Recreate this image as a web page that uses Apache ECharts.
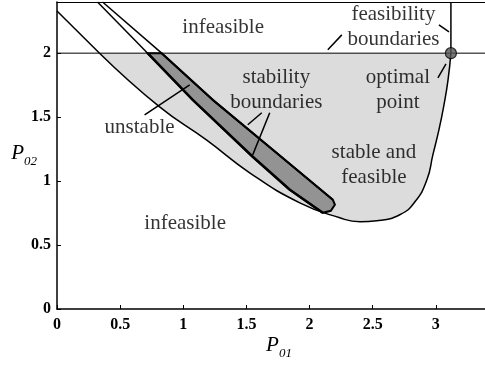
<!DOCTYPE html>
<html><head><meta charset="utf-8">
<script src="https://cdn.jsdelivr.net/npm/echarts@6/dist/echarts.min.js"></script>
<style>html,body{margin:0;padding:0;background:#fff}#c{width:485px;height:365px}</style>
</head><body><div id="c"></div>
<script>
// feasibility boundary (lower curve): part above P02=2, and part enclosing the feasible region
const boundaryOuter = [[0, 2.33], [0.337, 2.0]];
const boundaryInner = [[0.337, 2.0], [0.813, 1.58], [1.186, 1.32], [1.526, 1.065], [1.923, 0.83], [2.24, 0.713], [2.40, 0.682], [2.533, 0.69], [2.715, 0.737], [2.835, 0.838], [2.93, 1.01], [2.977, 1.205], [3.025, 1.40], [3.065, 1.596], [3.097, 1.79], [3.12, 2.0]];
const feasLimitY = 2.0;
const feasLimitX = 3.12;
// stability boundaries
const stabLowerAbove = [[0.321, 2.40], [0.718, 2.0]];
const stabLowerBelow = [[0.718, 2.0], [1.075, 1.635], [1.55, 1.19], [1.844, 0.932], [2.105, 0.752]];
const stabUpperAbove = [[0.361, 2.40], [0.829, 2.0]];
const stabUpperBelow = [[0.829, 2.0], [1.233, 1.635], [1.709, 1.245], [2.185, 0.854]];
const bandCap = [[2.185, 0.854], [2.201, 0.815], [2.169, 0.768], [2.105, 0.752]];
const optimalPoint = [3.12, 2.0];
// annotations
const annoText = ['infeasible', 'feasibility\nboundaries', 'stability\nboundaries', 'optimal\npoint', 'stable and\nfeasible', 'unstable', 'infeasible'];
const annoPos = [[1.316, 2.198], [2.665, 2.202], [1.737, 1.709], [2.70, 1.709], [2.51, 1.127], [0.654, 1.416], [1.015, 0.666]];
const leaders = [
  [[2.145, 2.026], [2.256, 2.143]],
  [[3.025, 2.221], [3.105, 2.166]],
  [[3.017, 1.807], [3.081, 1.916]],
  [[1.511, 1.44], [1.622, 1.534]],
  [[1.685, 1.534], [1.55, 1.205]],
  [[0.694, 1.518], [1.051, 1.752]]
];
const xMin = 0, xMax = 3.39, yMin = 0, yMax = 2.4;

const FONT = 'Liberation Serif';
const bandPoly = stabUpperBelow.concat(bandCap.slice(1)).concat(stabLowerBelow.slice(0, -1).reverse());

const chart = echarts.init(document.getElementById('c'), null, {renderer: 'canvas'});
const blackLine = (data, w, z) => ({
  type: 'line', data: data, symbol: 'none', silent: true, z: z || 5,
  lineStyle: {color: '#000', width: w}, animation: false
});

chart.setOption({
  animation: false,
  backgroundColor: '#fff',
  grid: {left: 57, right: 0, top: 2, bottom: 56, containLabel: false, outerBoundsMode: 'none'},
  xAxis: [{
    type: 'value', min: xMin, max: xMax, interval: 0.5,
    name: '{p|P}{s|01}', nameLocation: 'middle', nameGap: 26, nameMoveOverlap: false,
    nameTextStyle: {rich: {
      p: {fontFamily: FONT, fontStyle: 'italic', fontSize: 21, color: '#000', padding: [0, 0, 4, 16]},
      s: {fontFamily: FONT, fontStyle: 'italic', fontSize: 13, color: '#000', verticalAlign: 'bottom'}
    }},
    axisLine: {show: true, lineStyle: {color: '#000', width: 1.5}},
    axisTick: {show: true, inside: true, length: 4, lineStyle: {color: '#000'}},
    axisLabel: {color: '#000', fontFamily: FONT, fontWeight: 'bold', fontSize: 16, margin: 8, showMaxLabel: false},
    splitLine: {show: false}
  }, {
    type: 'value', position: 'top', min: xMin, max: xMax,
    axisLine: {show: true, onZero: false, lineStyle: {color: '#000', width: 1}},
    axisTick: {show: false}, axisLabel: {show: false}, splitLine: {show: false}
  }],
  yAxis: {
    type: 'value', min: yMin, max: yMax, interval: 0.5,
    name: '{p|P}{s|02}', nameLocation: 'middle', nameRotate: 0, nameGap: 20, nameMoveOverlap: false,
    nameTextStyle: {rich: {
      p: {fontFamily: FONT, fontStyle: 'italic', fontSize: 21, color: '#000', padding: [0, 0, 4, 0]},
      s: {fontFamily: FONT, fontStyle: 'italic', fontSize: 13, color: '#000', verticalAlign: 'bottom'}
    }},
    axisLine: {show: true, lineStyle: {color: '#000', width: 1.5}},
    axisTick: {show: true, inside: true, length: 4, lineStyle: {color: '#000'}},
    axisLabel: {color: '#000', fontFamily: FONT, fontWeight: 'bold', fontSize: 16, margin: 6, showMaxLabel: false},
    splitLine: {show: false}
  },
  series: [
    // feasible region fill + its boundary
    {
      type: 'line', data: boundaryInner, symbol: 'none', smooth: 0.5, z: 2,
      lineStyle: {color: '#000', width: 1.5},
      areaStyle: {color: '#dcdcdc', opacity: 1, origin: feasLimitY}
    },
    blackLine(boundaryOuter, 1.5, 3),
    // unstable band
    {
      type: 'custom', z: 4, silent: true,
      data: [0],
      renderItem: function (params, api) {
        const pts = bandPoly.map(p => api.coord(p));
        return {type: 'polygon', shape: {points: pts}, style: {fill: '#939393', stroke: '#000', lineWidth: 2}};
      }
    },
    blackLine(stabLowerAbove, 1.5),
    blackLine(stabLowerBelow, 2.5),
    blackLine(stabUpperAbove, 1.5),
    blackLine(stabUpperBelow, 2),
    // feasibility limits
    blackLine([[xMin, feasLimitY], [xMax, feasLimitY]], 1, 6),
    blackLine([[feasLimitX, feasLimitY], [feasLimitX, yMax]], 1.5, 6),
    // leader lines
    {
      type: 'custom', z: 7, silent: true,
      data: leaders.map((l, i) => i),
      renderItem: function (params, api) {
        const l = leaders[params.dataIndex];
        const a = api.coord(l[0]), b = api.coord(l[1]);
        return {type: 'line', shape: {x1: a[0], y1: a[1], x2: b[0], y2: b[1]}, style: {stroke: '#000', lineWidth: 1.5}};
      }
    },
    // optimal point
    {
      type: 'scatter', data: [optimalPoint], symbol: 'circle', symbolSize: 11, z: 9,
      itemStyle: {color: '#555', borderColor: '#000', borderWidth: 1.2}
    },
    // annotation texts
    {
      type: 'scatter', z: 10, silent: true, symbolSize: 1,
      itemStyle: {color: 'rgba(0,0,0,0)'},
      data: annoPos.map((p, i) => ({value: p, name: annoText[i]})),
      label: {
        show: true, position: 'inside', formatter: '{b}',
        fontFamily: FONT, fontSize: 21, color: '#000', lineHeight: 25, align: 'center'
      }
    }
  ]
});
</script></body></html>
